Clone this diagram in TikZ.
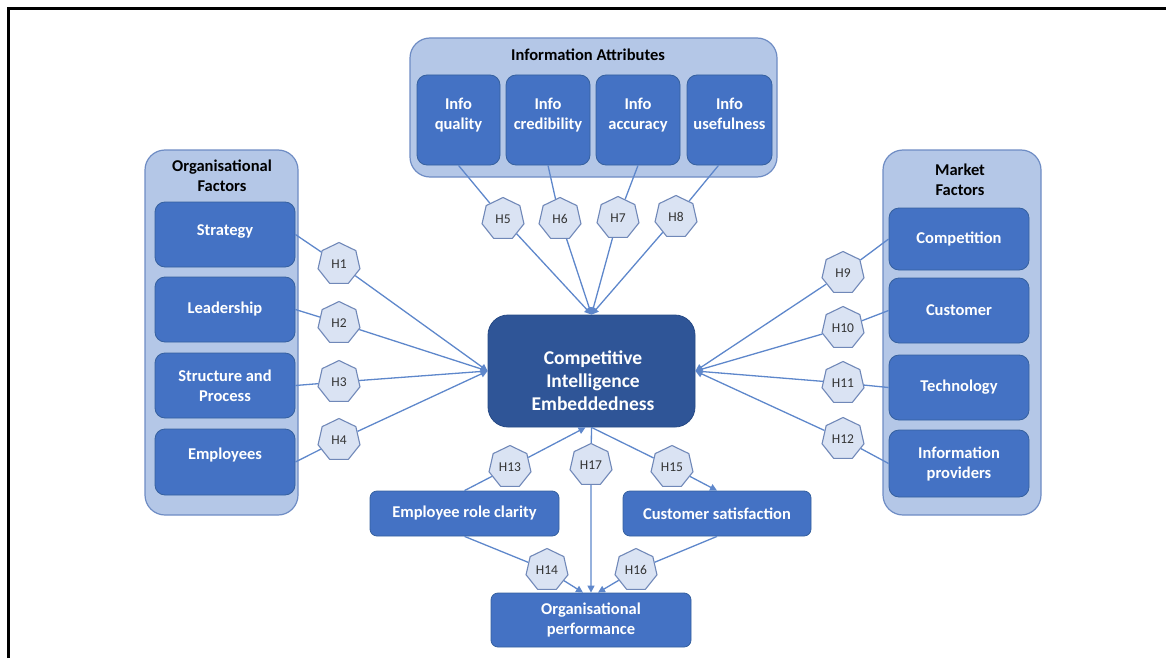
\documentclass[tikz,border=0pt]{standalone}
\usepackage{fontspec}
\setmainfont{Carlito}
\usetikzlibrary{shapes.geometric,arrows.meta}
\definecolor{boxblue}{HTML}{4472C4}
\definecolor{boxedge}{HTML}{35609F}
\definecolor{groupfill}{HTML}{B4C7E7}
\definecolor{groupedge}{HTML}{6E8CC4}
\definecolor{coreblue}{HTML}{2F5597}
\definecolor{coreedge}{HTML}{264A85}
\definecolor{hexfill}{HTML}{DAE3F3}
\definecolor{hexedge}{HTML}{7088B8}
\definecolor{linkblue}{HTML}{5E87CB}
\tikzset{
  group/.style={draw=groupedge, fill=groupfill, line width=1.2pt, rounded corners=20pt},
  grouptitle/.style={font=\fontsize{16.5}{20}\bfseries\selectfont, text=black, align=center},
  factor/.style={draw=boxedge, fill=boxblue, line width=0.8pt, rounded corners=10pt,
    text=white, font=\fontsize{16.5}{20}\bfseries\selectfont, align=center, inner sep=0pt},
  outcome/.style={factor, rounded corners=7pt},
  core/.style={draw=coreedge, fill=coreblue, line width=0.8pt, rounded corners=20pt,
    inner sep=0pt, minimum width=207pt, minimum height=112pt},
  coretext/.style={text=white, font=\fontsize{19.5}{23}\bfseries\selectfont, align=center},
  hyp/.style={regular polygon, regular polygon sides=7, minimum size=43pt, inner sep=0pt,
    draw=hexedge, fill=hexfill, line width=1.1pt, text=black!80,
    font=\fontsize{13.5}{14}\selectfont},
  link/.style={draw=linkblue, line width=1.3pt},
  linkto/.style={link, -{Triangle[length=7pt,width=7pt]}}
}
\begin{document}
\begin{tikzpicture}[x=1pt,y=-1pt]
\useasboundingbox (0,0) rectangle (1166,658);
% page frame
\draw[line width=3pt] (8.5,658) -- (8.5,8.5) -- (1166,8.5);

% organisational factors
\node[group, minimum width=153pt, minimum height=365pt] (og) at (221.5,332.5) {};
\node[grouptitle] (ogt) at (222,176) {Organisational\\Factors};
\node[factor, minimum width=140pt, minimum height=65pt, text depth=8pt] (s1) at (225,234.5) {Strategy};
\node[factor, minimum width=140pt, minimum height=65pt] (s2) at (225,309.5) {Leadership};
\node[factor, minimum width=140pt, minimum height=65pt] (s3) at (225,385.5) {Structure and\\Process};
\node[factor, minimum width=140pt, minimum height=66pt, text depth=16pt] (s4) at (225,462) {Employees};

% market factors
\node[group, minimum width=158pt, minimum height=365pt] (mk) at (962,332.5) {};
\node[grouptitle] (mkt) at (960,180) {Market\\Factors};
\node[factor, minimum width=140pt, minimum height=62pt] (m1) at (959,239) {Competition};
\node[factor, minimum width=140pt, minimum height=65pt] (m2) at (959,310.5) {Customer};
\node[factor, minimum width=140pt, minimum height=65pt] (m3) at (959,387.5) {Technology};
\node[factor, minimum width=140pt, minimum height=67pt] (m4) at (959,463.5) {Information\\providers};

% information attributes
\node[group, minimum width=367pt, minimum height=139pt] (ia) at (593.5,107.5) {};
\node[grouptitle] (iat) at (588,55) {Information Attributes};
\begin{scope}[every node/.append style={text depth=12pt}]
\node[factor, minimum width=83pt, minimum height=90pt] (i1) at (458.5,120) {Info\\quality};
\node[factor, minimum width=84pt, minimum height=90pt] (i2) at (548,120) {Info\\credibility};
\node[factor, minimum width=84pt, minimum height=90pt] (i3) at (638,120) {Info\\accuracy};
\node[factor, minimum width=85pt, minimum height=90pt] (i4) at (729.5,120) {Info\\usefulness};
\end{scope}

% core construct and outcomes
\node[core] (ci) at (591.5,371) {};
\node[coretext] (citext) at (593,381) {Competitive\\Intelligence\\Embeddedness};
\node[outcome, minimum width=189pt, minimum height=45pt] (erc) at (464.5,513.5) {Employee role clarity};
\node[outcome, minimum width=188pt, minimum height=45pt] (cs) at (717,513.5) {Customer satisfaction};
\node[outcome, minimum width=200pt, minimum height=54pt] (op) at (591,620) {Organisational\\performance};

% hypotheses
\node[hyp] (h1) at (339,264) {H1};
\node[hyp] (h2) at (339,323) {H2};
\node[hyp] (h3) at (339,382) {H3};
\node[hyp] (h4) at (339,440) {H4};
\node[hyp] (h5) at (503,219) {H5};
\node[hyp] (h6) at (560,219) {H6};
\node[hyp] (h7) at (618,218) {H7};
\node[hyp] (h8) at (676,217) {H8};
\node[hyp] (h9) at (843,273) {H9};
\node[hyp] (h10) at (843,328) {H10};
\node[hyp] (h11) at (843,383) {H11};
\node[hyp] (h12) at (843,439) {H12};
\node[hyp] (h13) at (510,467) {H13};
\node[hyp] (h17) at (591,465) {H17};
\node[hyp] (h15) at (672,467) {H15};
\node[hyp] (h14) at (547,570) {H14};
\node[hyp] (h16) at (636,570) {H16};

% organisational factors -> CI
\foreach \s/\h in {s1/h1, s2/h2, s3/h3, s4/h4} {
  \draw[link] (\s.east) -- (\h);
  \draw[linkto] (\h) -- (ci.west);
}
% information attributes -> CI
\draw[link] (i1.south) -- (h5);
\draw[link] (i2.south) -- (h6);
\draw[link] (i3.south) -- (h7);
\draw[link] ([xshift=-11pt]i4.south) -- (h8);
\foreach \h in {h5,h6,h7,h8}
  \draw[linkto] (\h) -- (ci.north);
% market factors -> CI
\foreach \m/\h in {m1/h9, m2/h10, m3/h11, m4/h12} {
  \draw[link] (\m.west) -- (\h);
  \draw[linkto] (\h) -- (ci.east);
}
% outcomes
\draw[link] (erc.north) -- (h13);
\draw[linkto] (h13) -- ([xshift=-6pt]ci.south);
\draw[link] (ci.south) -- (h15);
\draw[linkto] (h15) -- (cs.north);
\draw[link] (ci.south) -- (h17);
\draw[linkto] (h17) -- (op.north);
\draw[link] (erc.south) -- (h14);
\draw[linkto] (h14) -- ([xshift=-8pt]op.north);
\draw[link] (cs.south) -- (h16);
\draw[linkto] (h16) -- ([xshift=7pt]op.north);
\end{tikzpicture}
\end{document}
